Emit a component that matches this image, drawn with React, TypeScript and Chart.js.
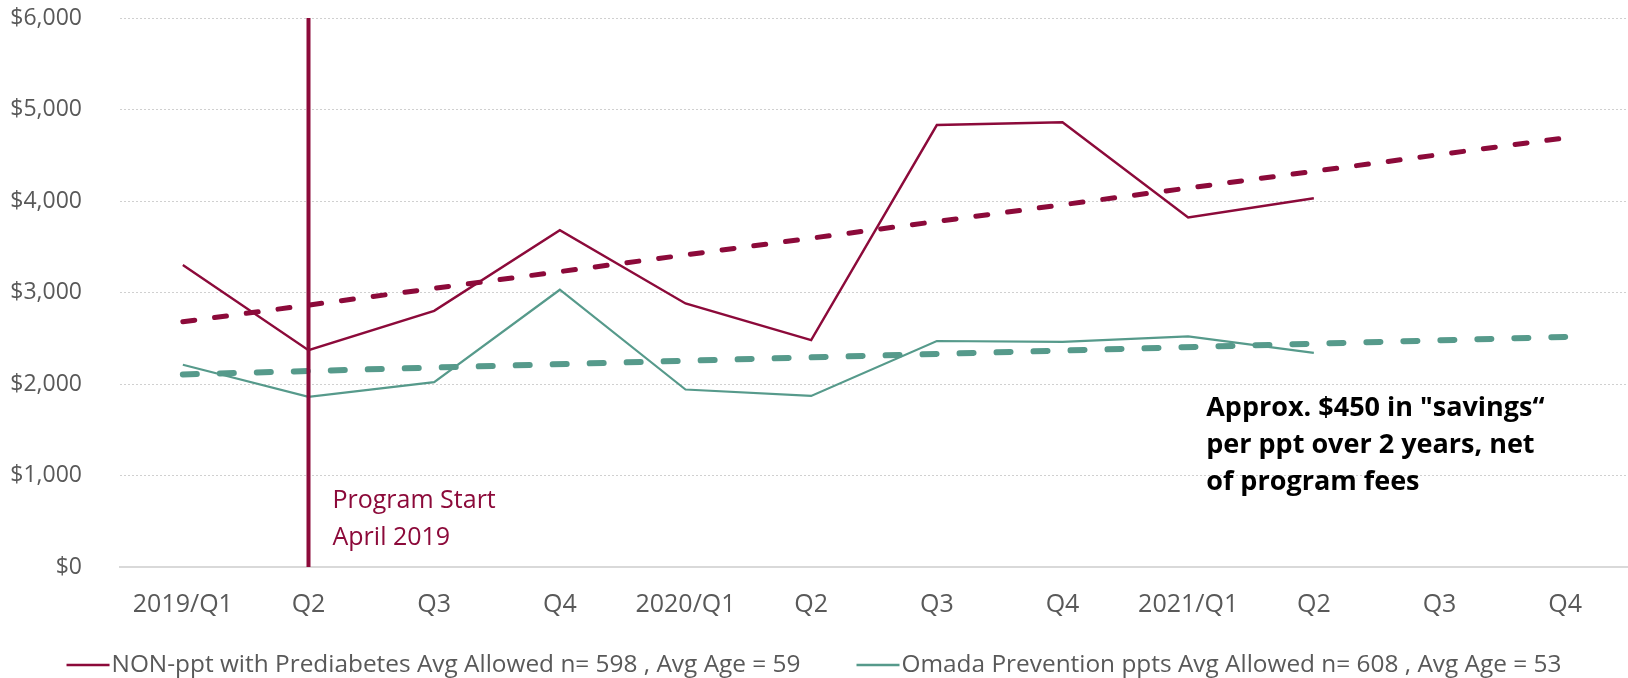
import React, { useEffect, useRef } from "react";
import { Chart, registerables } from "chart.js";

Chart.register(...registerables);

// Quarter labels along the x axis
const quarters = ["2019/Q1", "Q2", "Q3", "Q4", "2020/Q1", "Q2", "Q3", "Q4", "2021/Q1", "Q2", "Q3", "Q4"];

// Average allowed amount per member, by quarter
const nonPptAllowed = [3300, 2370, 2800, 3680, 2880, 2480, 4830, 4860, 3820, 4030];
const omadaAllowed = [2210, 1860, 2020, 3030, 1940, 1870, 2470, 2460, 2520, 2340];

// Linear trend lines: value at the first and at the last quarter
const nonPptTrend = [2680, 4690];
const omadaTrend = [2105, 2515];

// Program start marker (quarter index) spanning the full value range
const programStartQuarter = 1;
const programStartRange = [0, 6000];

const yTickValues = [0, 1000, 2000, 3000, 4000, 5000, 6000];

const seriesNames = [
  "NON-ppt with Prediabetes Avg Allowed n= 598 , Avg Age = 59",
  "Omada Prevention ppts Avg Allowed n= 608 , Avg Age = 53",
];
const programStartText = ["Program Start", "April 2019"];
const savingsNote = ['Approx. $450 in "savings\u201C', "per ppt over 2 years, net", "of program fees"];

const CRIMSON = "#8C0A3A";
const TEAL = "#569A8B";
const TICK_GRAY = "#595959";
const FONT = "'Open Sans', 'Noto Sans', sans-serif";

const toPoints = (values: number[]) => values.map((v, i) => ({ x: i, y: v }));
const trendPoints = (ends: number[]) => [
  { x: 0, y: ends[0] },
  { x: quarters.length - 1, y: ends[1] },
];

const notesPlugin = {
  id: "notes",
  afterDatasetsDraw(chart: any) {
    const { ctx, scales } = chart;
    const x = scales.x;
    const y = scales.y;
    ctx.save();
    ctx.textAlign = "left";
    ctx.textBaseline = "middle";

    // Program start caption next to the marker
    ctx.fillStyle = CRIMSON;
    ctx.font = `25px ${FONT}`;
    const psX = x.getPixelForValue(programStartQuarter) + 24;
    const psY = y.getPixelForValue(0) - 66;
    programStartText.forEach((t, i) => ctx.fillText(t, psX, psY + i * 37));

    // Savings note
    ctx.fillStyle = "#000000";
    ctx.font = `bold 27px ${FONT}`;
    const nX = x.getPixelForValue(8) + 18;
    const nY = y.getPixelForValue(2000) + 24;
    savingsNote.forEach((t, i) => ctx.fillText(t, nX, nY + i * 37));
    ctx.restore();
  },
};

const legendPlugin = {
  id: "bottomLegend",
  afterDraw(chart: any) {
    const { ctx } = chart;
    const colors = [CRIMSON, TEAL];
    const lineLen = 43;
    const textGap = 2;
    const itemGap = 56;
    ctx.save();
    ctx.font = `24.4px ${FONT}`;
    ctx.textBaseline = "middle";
    ctx.textAlign = "left";
    const widths = seriesNames.map((t) => ctx.measureText(t).width);
    const total = widths.reduce((a, w) => a + w + lineLen + textGap, 0) + itemGap * (seriesNames.length - 1);
    let cx = chart.width / 2 - total / 2;
    const cy = chart.height - 13;
    seriesNames.forEach((t, i) => {
      ctx.strokeStyle = colors[i];
      ctx.lineWidth = 2.5;
      ctx.beginPath();
      ctx.moveTo(cx, cy);
      ctx.lineTo(cx + lineLen, cy);
      ctx.stroke();
      ctx.fillStyle = TICK_GRAY;
      ctx.fillText(t, cx + lineLen + textGap, cy);
      cx += lineLen + textGap + widths[i] + itemGap;
    });
    ctx.restore();
  },
};

export default function App() {
  const canvasRef = useRef<HTMLCanvasElement | null>(null);

  useEffect(() => {
    document.body.style.margin = "0";
    const canvas = canvasRef.current;
    if (!canvas) return;

    const chart = new Chart(canvas, {
      type: "line",
      data: {
        datasets: [
          {
            label: seriesNames[0],
            data: toPoints(nonPptAllowed),
            borderColor: CRIMSON,
            backgroundColor: CRIMSON,
            borderWidth: 2.4,
            pointRadius: 0,
            tension: 0,
            order: 4,
          },
          {
            label: seriesNames[1],
            data: toPoints(omadaAllowed),
            borderColor: TEAL,
            backgroundColor: TEAL,
            borderWidth: 2.2,
            pointRadius: 0,
            tension: 0,
            order: 3,
          },
          {
            label: "NON-ppt trend",
            data: trendPoints(nonPptTrend),
            borderColor: CRIMSON,
            borderWidth: 5,
            borderDash: [12, 20],
            borderCapStyle: "round",
            pointRadius: 0,
            order: 2,
          },
          {
            label: "Omada trend",
            data: trendPoints(omadaTrend),
            borderColor: TEAL,
            borderWidth: 6,
            borderDash: [14, 23],
            borderCapStyle: "round",
            pointRadius: 0,
            order: 1,
          },
          {
            label: "Program Start",
            data: programStartRange.map((v) => ({ x: programStartQuarter, y: v })),
            borderColor: CRIMSON,
            borderWidth: 4,
            pointRadius: 0,
            order: 0,
          },
        ],
      },
      options: {
        responsive: false,
        animation: false,
        layout: { padding: { top: 18, right: 0, bottom: 0, left: 0 } },
        plugins: {
          legend: { display: false },
          tooltip: { enabled: false },
        },
        scales: {
          x: {
            type: "linear",
            min: -0.5,
            max: quarters.length - 0.5,
            grid: { display: false, drawTicks: false },
            border: { display: true, color: "#D9D9D9", width: 2 },
            afterBuildTicks: (scale: any) => {
              scale.ticks = quarters.map((_, i) => ({ value: i }));
            },
            afterFit: (scale: any) => {
              scale.height = 111;
              scale.paddingLeft = 0;
              scale.paddingRight = 0;
            },
            ticks: {
              autoSkip: false,
              maxRotation: 0,
              padding: 23,
              color: TICK_GRAY,
              font: { family: FONT, size: 25 },
              callback: (v: any) => quarters[v as number],
            },
          },
          y: {
            type: "linear",
            min: 0,
            max: 6000,
            grid: { color: "#D0D0D0", lineWidth: 1, drawTicks: false },
            border: { display: false, dash: [2, 2] },
            afterBuildTicks: (scale: any) => {
              scale.ticks = yTickValues.map((v) => ({ value: v }));
            },
            afterFit: (scale: any) => {
              scale.width = 120;
              scale.paddingTop = 0;
              scale.paddingBottom = 0;
            },
            ticks: {
              padding: 38,
              color: TICK_GRAY,
              font: { family: FONT, size: 23 },
              callback: (v: any) => "$" + Number(v).toLocaleString("en-US"),
            },
          },
        },
      } as any,
      plugins: [notesPlugin, legendPlugin],
    });

    return () => chart.destroy();
  }, []);

  return (
    <div style={{ width: 1628, height: 678 }}>
      <canvas ref={canvasRef} width={1628} height={678} />
    </div>
  );
}
